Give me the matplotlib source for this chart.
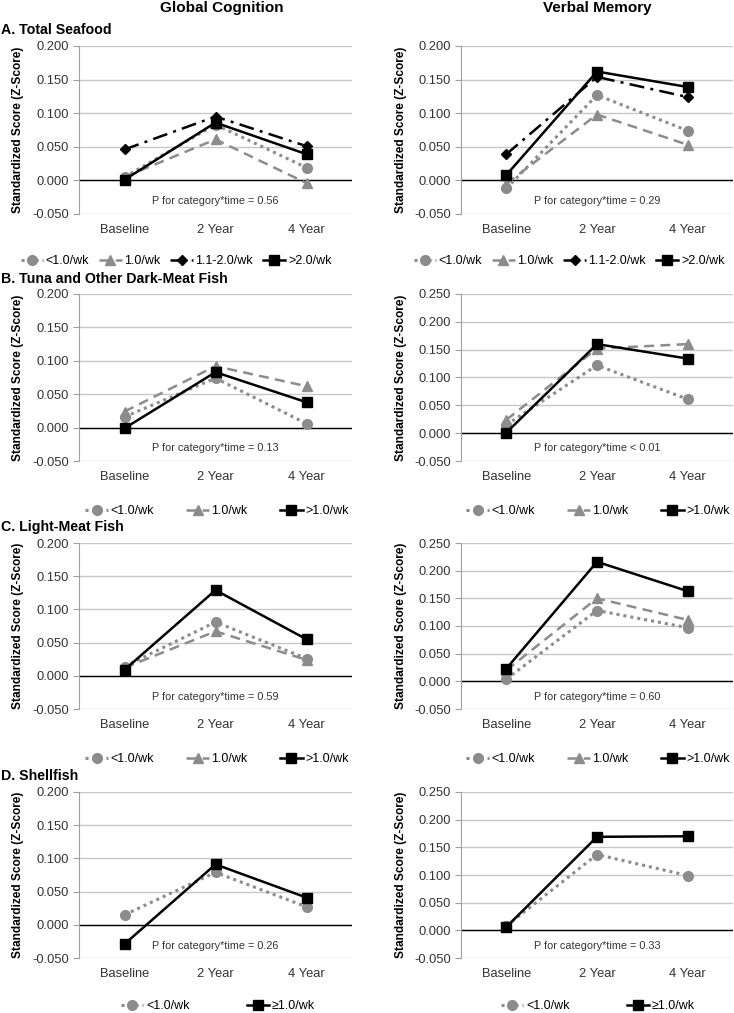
import matplotlib.pyplot as plt

plt.rcParams['font.family'] = ['Liberation Sans', 'DejaVu Sans']
plt.rcParams['axes.unicode_minus'] = False

times = ['Baseline', '2 Year', '4 Year']

# A. Total Seafood
gc_a_lt1 = [0.005, 0.083, 0.019]
gc_a_eq1 = [0.005, 0.061, -0.004]
gc_a_mid = [0.046, 0.095, 0.051]
gc_a_gt2 = [0.001, 0.086, 0.039]
vm_a_lt1 = [-0.012, 0.127, 0.074]
vm_a_eq1 = [-0.005, 0.098, 0.053]
vm_a_mid = [0.039, 0.154, 0.124]
vm_a_gt2 = [0.008, 0.162, 0.139]

# B. Tuna and other dark-meat fish
gc_b_lt1 = [0.016, 0.074, 0.006]
gc_b_eq1 = [0.024, 0.092, 0.062]
gc_b_gt1 = [-0.001, 0.083, 0.038]
vm_b_lt1 = [0.015, 0.122, 0.061]
vm_b_eq1 = [0.024, 0.152, 0.160]
vm_b_gt1 = [0.001, 0.160, 0.134]

# C. Light-meat fish
gc_c_lt1 = [0.014, 0.081, 0.026]
gc_c_eq1 = [0.012, 0.067, 0.024]
gc_c_gt1 = [0.009, 0.129, 0.055]
vm_c_lt1 = [0.004, 0.128, 0.097]
vm_c_eq1 = [0.020, 0.150, 0.111]
vm_c_gt1 = [0.023, 0.216, 0.163]

# D. Shellfish
gc_d_lt1 = [0.015, 0.079, 0.027]
gc_d_ge1 = [-0.029, 0.091, 0.041]
vm_d_lt1 = [0.008, 0.137, 0.099]
vm_d_ge1 = [0.006, 0.169, 0.170]

p_texts = [['= 0.56', '= 0.29'], ['= 0.13', '< 0.01'], ['= 0.59', '= 0.60'], ['= 0.26', '= 0.33']]

styles = {
    'lt1': dict(color='#8c8c8c', ls=(0, (1, 1.3)), marker='o', ms=7, lw=2.2),
    'eq1': dict(color='#8c8c8c', ls=(0, (4, 2.5)), marker='^', ms=7.5, lw=1.8),
    'mid': dict(color='black', ls=(0, (6, 2.5, 1.2, 2.5)), marker='D', ms=5.5, lw=1.8),
    'top': dict(color='black', ls='-', marker='s', ms=7, lw=1.8),
}

W, H = 734, 1013
fig = plt.figure(figsize=(W / 100, H / 100), dpi=100)

rows_px = [(46, 214), (294, 461), (543, 709), (792, 958)]
cols_px = [(79, 352), (461, 733)]


def make_ax(r, c):
    (t, b), (l, rr) = rows_px[r], cols_px[c]
    return fig.add_axes([l / W, 1 - b / H, (rr - l) / W, (b - t) / H])


def draw(ax, series, ytop, ptext):
    x = range(len(times))
    lines = []
    for key, label, vals in series:
        s = styles[key]
        ln, = ax.plot(x, vals, color=s['color'], linestyle=s['ls'], lw=s['lw'],
                      marker=s['marker'], markersize=s['ms'], markerfacecolor=s['color'],
                      markeredgecolor=s['color'], label=label, zorder=3)
        lines.append(ln)
    ax.set_xlim(-0.5, 2.5)
    ax.set_ylim(-0.05, ytop)
    ticks = [-0.05 + 0.05 * i for i in range(int(round((ytop + 0.05) / 0.05)) + 1)]
    ax.set_yticks(ticks)
    ax.set_yticklabels(['%.3f' % t for t in ticks])
    ax.set_xticks(list(x))
    ax.set_xticklabels(times)
    ax.grid(axis='y', color='#c8c8c8', lw=1)
    ax.set_axisbelow(True)
    for sp in ['top', 'right', 'bottom']:
        ax.spines[sp].set_visible(False)
    ax.spines['left'].set_color('#a0a0a0')
    ax.axhline(0, color='black', lw=1, zorder=2)
    ax.tick_params(axis='y', length=4, color='#a0a0a0', labelsize=9.3, labelcolor='#333333', pad=3)
    ax.tick_params(axis='x', length=0, labelsize=9.3, labelcolor='#333333', pad=7)
    ax.set_ylabel('Standardized Score (Z-Score)', fontsize=8.6, fontweight='bold')
    ax.yaxis.set_label_coords(-0.20, 0.5)
    ax.text(0.5, 0.075, 'P for category*time ' + ptext, transform=ax.transAxes,
            ha='center', va='center', fontsize=7.8, color='#333333')
    return lines


def add_legend(lines, cx, cy, spacing):
    fig.legend(handles=lines, loc='center', bbox_to_anchor=(cx / W, 1 - cy / H),
               ncol=len(lines), frameon=False, fontsize=9, handlelength=1.8,
               handletextpad=0.2, columnspacing=spacing, borderpad=0)


lab4 = ['<1.0/wk', '1.0/wk', '1.1-2.0/wk', '>2.0/wk']
lab3 = ['<1.0/wk', '1.0/wk', '>1.0/wk']
lab2 = ['<1.0/wk', '\u22651.0/wk']

panels = [
    ('A. Total Seafood', 0.200, 0.200,
     [('lt1', lab4[0], gc_a_lt1), ('eq1', lab4[1], gc_a_eq1), ('mid', lab4[2], gc_a_mid), ('top', lab4[3], gc_a_gt2)],
     [('lt1', lab4[0], vm_a_lt1), ('eq1', lab4[1], vm_a_eq1), ('mid', lab4[2], vm_a_mid), ('top', lab4[3], vm_a_gt2)],
     261, 0.8),
    ('B. Tuna and Other Dark-Meat Fish', 0.200, 0.250,
     [('lt1', lab3[0], gc_b_lt1), ('eq1', lab3[1], gc_b_eq1), ('top', lab3[2], gc_b_gt1)],
     [('lt1', lab3[0], vm_b_lt1), ('eq1', lab3[1], vm_b_eq1), ('top', lab3[2], vm_b_gt1)],
     511, 2.6),
    ('C. Light-Meat Fish', 0.200, 0.250,
     [('lt1', lab3[0], gc_c_lt1), ('eq1', lab3[1], gc_c_eq1), ('top', lab3[2], gc_c_gt1)],
     [('lt1', lab3[0], vm_c_lt1), ('eq1', lab3[1], vm_c_eq1), ('top', lab3[2], vm_c_gt1)],
     759, 2.6),
    ('D. Shellfish', 0.200, 0.250,
     [('lt1', lab2[0], gc_d_lt1), ('top', lab2[1], gc_d_ge1)],
     [('lt1', lab2[0], vm_d_lt1), ('top', lab2[1], vm_d_ge1)],
     1006, 4.6),
]

title_y = [30, 279, 527, 776]
leg_x = [[176, 569], [217, 598], [217, 598], [218, 598]]

for r, (title, ytop_l, ytop_r, left_s, right_s, ly, sp) in enumerate(panels):
    axl = make_ax(r, 0)
    axr = make_ax(r, 1)
    ll = draw(axl, left_s, ytop_l, p_texts[r][0])
    lr = draw(axr, right_s, ytop_r, p_texts[r][1])
    add_legend(ll, leg_x[r][0], ly, sp)
    add_legend(lr, leg_x[r][1], ly, sp)
    fig.text(1 / W, 1 - title_y[r] / H, title, fontsize=10.2, fontweight='bold', va='center', ha='left')

fig.text(222 / W, 1 - 8 / H, 'Global Cognition', fontsize=11, fontweight='bold', ha='center', va='center')
fig.text(597 / W, 1 - 8 / H, 'Verbal Memory', fontsize=11, fontweight='bold', ha='center', va='center')

fig.savefig('out.png', dpi=100)
